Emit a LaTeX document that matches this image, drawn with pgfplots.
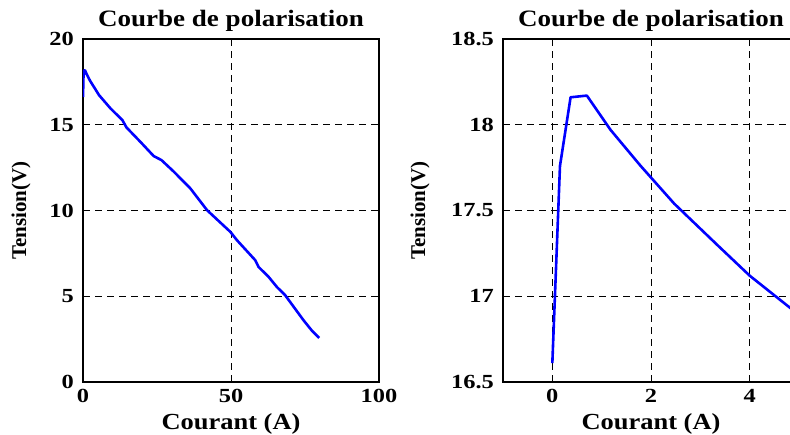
\documentclass[border=0pt]{standalone}
\usepackage{fontspec}
\setmainfont{Liberation Serif}
\newfontfamily\titlefont{Liberation Serif}[FakeStretch=1.15]
\newfontfamily\tickfont{Liberation Serif}[FakeStretch=1.22]
\usepackage{pgfplots}
\pgfplotsset{compat=1.18}
\definecolor{mblue}{RGB}{0,0,255}
\pgfplotsset{
  mystyle/.style={
    scale only axis, width=296pt, height=343pt, anchor=south west,
    axis line style={line width=1.2pt, black},
    tick align=inside, major tick length=5pt,
    tick style={black, line width=0.8pt},
    grid=major,
    major grid style={black, line width=0.7pt, dash pattern=on 7pt off 5pt},
    /pgf/number format/assume math mode=true,
    ticklabel style={font=\tickfont\bfseries\fontsize{20}{22}\selectfont, inner sep=0pt},
    xticklabel style={anchor=base, yshift=-21pt},
    yticklabel style={anchor=east, xshift=-9pt},
    title style={font=\titlefont\bfseries\fontsize{23.5}{25}\selectfont, anchor=base, at={(axis description cs:0.5,1)}, yshift=6pt},
    xlabel style={font=\titlefont\bfseries\fontsize{23}{25}\selectfont, anchor=base, at={(axis description cs:0.5,0)}, yshift=-48pt},
    title={Courbe de polarisation},
    xlabel={Courant (A)},
    ylabel={Tension(V)},
  }
}
\begin{document}
\begin{tikzpicture}[x=1pt,y=1pt]
\useasboundingbox (0,0) rectangle (790,435);
\clip (0,0) rectangle (790,435);
\begin{axis}[mystyle, at={(83pt,53pt)},
  xmin=0, xmax=100, ymin=0, ymax=20,
  xtick={0,50,100}, ytick={0,5,10,15,20},
  ylabel style={font=\bfseries\fontsize{21}{22}\selectfont, at={(axis description cs:-0.2095,0.5)}, anchor=center},
]
\addplot[mblue, line width=2.6pt, line join=round] coordinates {
(0,16.61) (0.155,17.76) (0.37,18.16) (0.7,18.17) (1.18,17.97) (1.79,17.76)
(2.47,17.54) (3.34,17.30) (4,17.12) (5.4,16.73) (9.3,15.95) (13.3,15.27)
(14.7,14.84) (19.4,14.0) (23.9,13.17) (26.5,12.94) (30.7,12.26) (36.3,11.28)
(41.9,10.02) (49.8,8.75) (52.0,8.27) (58.2,7.10) (59.3,6.71) (62.7,6.13)
(65.5,5.54) (68.3,5.06) (74.5,3.6) (77.3,3.0) (79.8,2.57)
};
\end{axis}
\begin{axis}[mystyle, at={(503pt,53pt)},
  xmin=-1, xmax=5, ymin=16.5, ymax=18.5,
  xtick={0,2,4}, ytick={16.5,17,17.5,18,18.5},
  yticklabel style={/pgf/number format/fixed, /pgf/number format/precision=1},
  ylabel style={font=\bfseries\fontsize{21}{22}\selectfont, at={(axis description cs:-0.2804,0.5)}, anchor=center},
]
\addplot[mblue, line width=2.6pt, line join=round] coordinates {
(0,16.61) (0.155,17.76) (0.37,18.16) (0.7,18.17) (1.18,17.97) (1.79,17.76)
(2.47,17.54) (3.34,17.30) (4,17.12) (4.83,16.93) (5,16.89)
};
\end{axis}
\end{tikzpicture}
\end{document}
